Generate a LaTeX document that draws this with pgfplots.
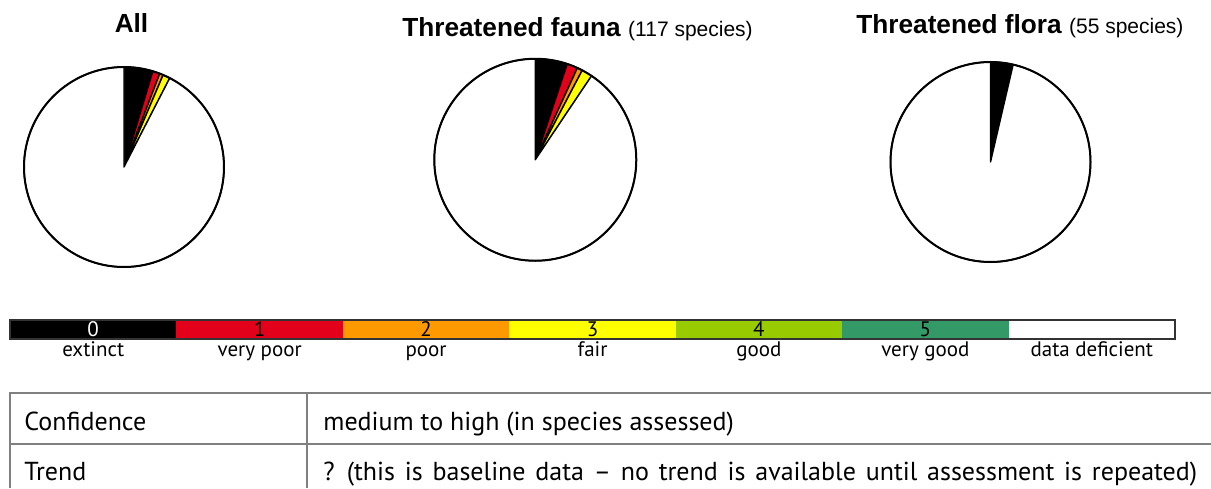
\documentclass[border=0pt]{standalone}
\usepackage{pgfplots}
\pgfplotsset{compat=1.18}
\usepackage{pgfplotstable}
\usepackage{fontspec}
\setmainfont{PT Sans}
\newfontfamily\arial{Liberation Sans}
\definecolor{c0}{HTML}{000000}
\definecolor{c1}{HTML}{E2001A}
\definecolor{c2}{HTML}{FF9900}
\definecolor{c3}{HTML}{FFFF00}
\definecolor{c4}{HTML}{99CC00}
\definecolor{c5}{HTML}{339966}
\definecolor{c6}{HTML}{FFFFFF}
\definecolor{tline}{HTML}{808080}

% species counts per class: 0 extinct ... 5 very good, 6 data deficient
\pgfplotstableread{
cls n
0 8
1 2
2 1
3 2
4 0
5 0
6 159
}\alldata
\pgfplotstableread{
cls n
0 6
1 2
2 1
3 2
4 0
5 0
6 106
}\faunadata
\pgfplotstableread{
cls n
0 2
1 0
2 0
3 0
4 0
5 0
6 53
}\floradata

\newcount\pierow
\newcommand\buildpie[1]{%
  \gdef\pietot{0}%
  \pgfplotstableforeachcolumnelement{n}\of#1\as\cell{%
    \pgfmathsetmacro\myt{\pietot+\cell}\xdef\pietot{\myt}}%
  \gdef\piecum{0}%
  \gdef\piecmds{}%
  \global\pierow=0
  \pgfplotstableforeachcolumnelement{n}\of#1\as\cell{%
    \pgfmathsetmacro\aS{90-(\piecum/\pietot)*360}%
    \pgfmathsetmacro\myc{\piecum+\cell}\xdef\piecum{\myc}%
    \pgfmathsetmacro\aE{90-(\piecum/\pietot)*360}%
    \ifdim\cell pt>0pt
      \xdef\piecmds{\unexpanded\expandafter{\piecmds}\noexpand\filldraw[fill=c\the\pierow,draw=black,line width=0.7pt,line join=round] (axis cs:0,0) -- (axis cs:{cos(\aS)},{sin(\aS)}) arc[start angle=\aS,end angle=\aE,radius=1] -- cycle;}%
    \fi
    \global\advance\pierow by 1
  }%
}
\pgfplotsset{pie/.style={hide axis, scale only axis, anchor=origin, xmin=-1,xmax=1,ymin=-1,ymax=1, clip=false}}

\begin{document}
\begin{tikzpicture}[x=0.5pt,y=0.5pt]
\useasboundingbox (0,0) rectangle (1211,488);

\buildpie{\alldata}
\begin{axis}[pie, at={(124,321)}, width=100pt, height=100pt]
\piecmds
\draw[line width=1pt] (axis cs:0,0) circle[radius=1];
\end{axis}

\buildpie{\faunadata}
\begin{axis}[pie, at={(530,325)}, width=101pt, height=101pt]
\piecmds
\draw[line width=1pt] (axis cs:0,0) circle[radius=1];
\end{axis}

\buildpie{\floradata}
\begin{axis}[pie, at={(990.5,326)}, width=100pt, height=100pt]
\piecmds
\draw[line width=1pt] (axis cs:0,0) circle[radius=1];
\end{axis}

% titles
\node[anchor=base, inner sep=0pt] at (131.5,455) {\arial\fontsize{13.1}{15}\selectfont\bfseries All};
\node[anchor=base west, inner sep=0pt] at (402,451) {\arial\fontsize{13.1}{15}\selectfont\textbf{Threatened fauna} \fontsize{10.5}{12}\selectfont(117 species)};
\node[anchor=base west, inner sep=0pt] at (856,454) {\arial\fontsize{13.1}{15}\selectfont\textbf{Threatened flora} \fontsize{10.5}{12}\selectfont(55 species)};

% legend bar
\foreach \i/\lab in {0/extinct,1/very poor,2/poor,3/fair,4/good,5/very good,6/data deficient}{
  \fill[c\i] ({10+\i*166.43},149) rectangle ++(166.43,19);
  \node[anchor=base, inner sep=0pt, font=\fontsize{10.5}{12}\selectfont] at ({10+(\i+0.5)*166.43},132) {\lab};
}
\foreach \i in {1,...,5}{
  \node[anchor=base, inner sep=0pt, font=\fontsize{10.5}{12}\selectfont] at ({10+(\i+0.5)*166.43},152) {\i};
}
\node[anchor=base, inner sep=0pt, font=\fontsize{10.5}{12}\selectfont, text=white] at ({10+0.5*166.43},152) {0};
\draw[line width=0.6pt, black!80] (10,149) rectangle (1175,168);

% table
\draw[tline, line width=0.6pt] (10,0) -- (10,95) -- (1211,95);
\draw[tline, line width=0.6pt] (10,44) -- (1211,44);
\draw[tline, line width=0.6pt] (307,0) -- (307,95);
\node[anchor=base west, inner sep=0pt, font=\fontsize{13.0}{15}\selectfont] at (24,58) {Confidence};
\node[anchor=base west, inner sep=0pt, font=\fontsize{13.0}{15}\selectfont] at (323,58) {medium to high (in species assessed)};
\node[anchor=base west, inner sep=0pt, font=\fontsize{13.0}{15}\selectfont] at (24,8) {Trend};
\node[anchor=base west, inner sep=0pt, font=\fontsize{13.0}{15}\selectfont] at (323,8) {\spaceskip=4.9pt plus 1pt ? (this is baseline data \textendash{} no trend is available until assessment is repeated)};
\end{tikzpicture}
\end{document}
